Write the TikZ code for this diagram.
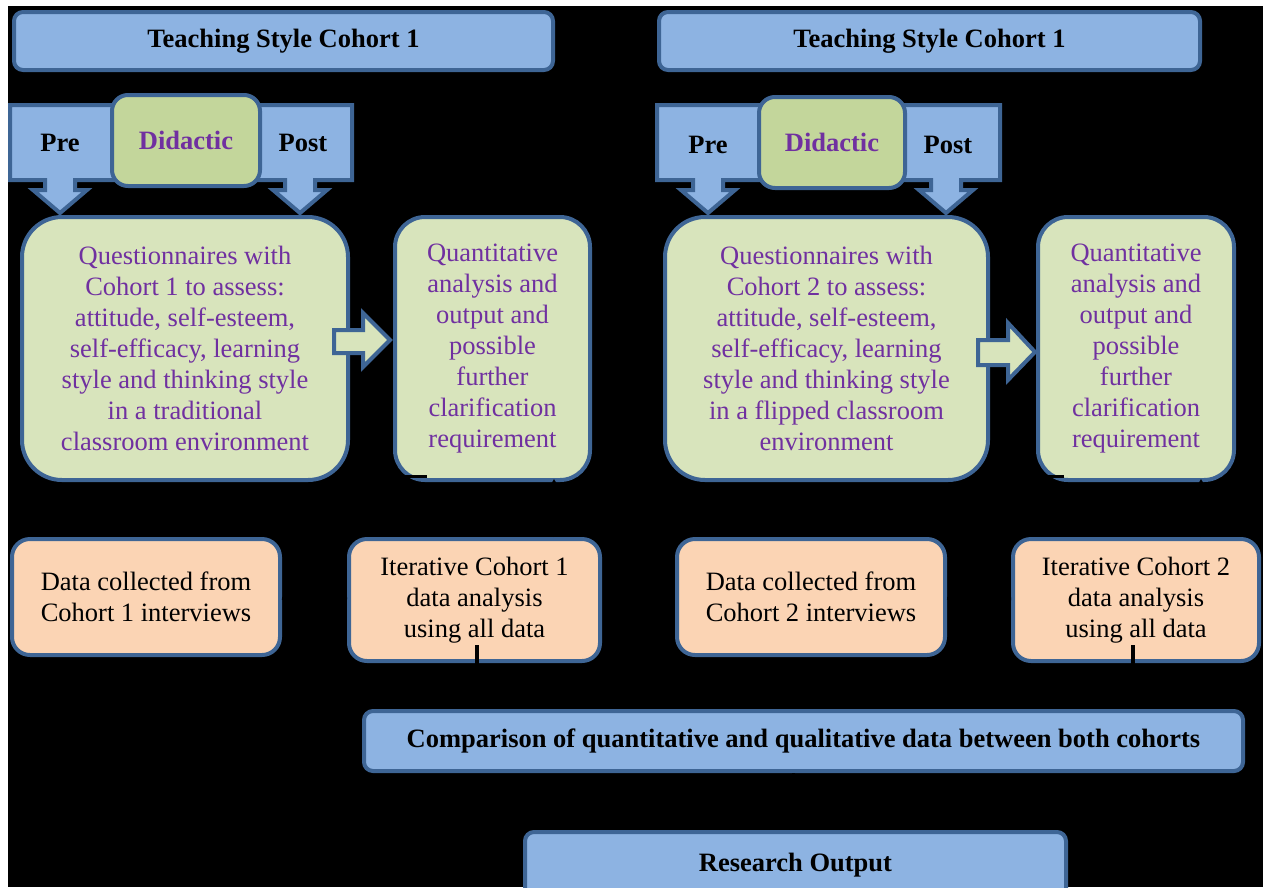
\documentclass[tikz,border=0pt]{standalone}
\usepackage{fontspec}
\setmainfont{LiberationSerif}[Extension=.ttf, UprightFont=*-Regular, BoldFont=*-Bold,
  ItalicFont=*-Italic, BoldItalicFont=*-BoldItalic]
\usetikzlibrary{arrows.meta}

\definecolor{edgeblue}{HTML}{3E6595}
\definecolor{barblue}{HTML}{8DB3E2}
\definecolor{didgreen}{HTML}{C3D69B}
\definecolor{qgreen}{HTML}{D8E4BC}
\definecolor{peach}{HTML}{FBD4B4}
\definecolor{txtpurple}{HTML}{7030A0}

\tikzset{
  base/.style={draw=edgeblue, line width=4pt, align=center, inner sep=0pt},
  bar/.style={base, fill=barblue, rounded corners=9pt,
    font=\bfseries\fontsize{26.5}{31}\selectfont},
  didbox/.style={base, fill=didgreen, rounded corners=16pt, text=txtpurple,
    font=\bfseries\fontsize{26.5}{31}\selectfont},
  qbox/.style={base, fill=qgreen, rounded corners=40pt, text=txtpurple,
    font=\fontsize{26.5}{31}\selectfont},
  anbox/.style={base, fill=qgreen, rounded corners=30pt, text=txtpurple,
    font=\fontsize{26.5}{31}\selectfont},
  peachbox/.style={base, fill=peach, rounded corners=18pt,
    font=\fontsize{26.5}{31}\selectfont},
  callout/.style={draw=edgeblue, fill=barblue, line width=4pt, line join=miter},
  calltext/.style={font=\bfseries\fontsize{26.5}{31}\selectfont},
  blockarrow/.style={draw=edgeblue, fill=qgreen, line width=4pt, line join=miter},
  conn/.style={draw=black, line width=3pt},
  tick/.style={draw=black, line width=4pt},
  tip/.style={-{Triangle[width=9pt,length=8pt]}}
}

% down-pointing callout: body from #1 to #2, arrow centred on #3
\newcommand{\calloutshape}[3]{%
  \path[callout] (#1,105) -- (#2,105) -- (#2,180) -- ({#3+15},180) -- ({#3+15},190)
    -- ({#3+27},190) -- (#3,213) -- ({#3-27},190) -- ({#3-15},190) -- ({#3-15},180)
    -- (#1,180) -- cycle;}

\begin{document}
\begin{tikzpicture}[x=1pt, y=-1pt]
  \useasboundingbox (0,0) rectangle (1263,887);
  \clip (0,0) rectangle (1263,887);
  \fill[white] (0,0) rectangle (1263,887);
  \fill[black] (8,6) rectangle (1263,887);

  % cohort headers
  \node[bar, minimum width=539pt, minimum height=58pt] (top1) at (283.5,41) {Teaching Style Cohort 1};
  \node[bar, minimum width=541pt, minimum height=58pt] (top2) at (929.5,41) {Teaching Style Cohort 1};

  % analysis boxes
  \node[anbox, minimum width=195pt, minimum height=263pt] (quant1) at (492.5,348.5)
    {Quantitative\\analysis and\\output and\\possible\\further\\clarification\\requirement};
  \node[anbox, minimum width=196pt, minimum height=263pt] (quant2) at (1136,348.5)
    {Quantitative\\analysis and\\output and\\possible\\further\\clarification\\requirement};

  % interview and iteration boxes
  \node[peachbox, minimum width=268pt, minimum height=116pt] (data1) at (146,597)
    {Data collected from\\Cohort 1 interviews};
  \node[peachbox, minimum width=268pt, minimum height=116pt] (data2) at (811,597)
    {Data collected from\\Cohort 2 interviews};
  \node[peachbox, minimum width=251pt, minimum height=122pt] (iter1) at (474.5,600)
    {Iterative Cohort 1\\data analysis\\using all data};
  \node[peachbox, minimum width=246pt, minimum height=122pt] (iter2) at (1136,600)
    {Iterative Cohort 2\\data analysis\\using all data};

  % comparison and output
  \node[bar, minimum width=879pt, minimum height=60pt] (comp) at (803.5,741)
    {Comparison of quantitative and qualitative data between both cohorts};
  \node[bar, minimum width=541pt, minimum height=66pt] (res) at (795.5,865) {Research Output};

  % connector anchors
  \coordinate (s1) at ([xshift=34pt,yshift=6pt]quant1.south west);
  \coordinate (s2) at ([xshift=28pt,yshift=6pt]quant2.south west);
  \coordinate (d1) at (218,0);
  \coordinate (d2) at (855,0);
  \coordinate (f1) at (554,0);
  \coordinate (f2) at (1201,0);
  \coordinate (b1) at (477,645);
  \coordinate (b2) at (1133,645);
  \coordinate (m) at (793,0);

  % clarification requirement goes to the interviews
  \draw[conn] (s1) -| (data1.north -| d1);
  \draw[conn] (s2) -| (data2.north -| d2);

  % questionnaire boxes
  \node[qbox, minimum width=326pt, minimum height=263pt] (q1) at (185,348.5)
    {Questionnaires with\\Cohort 1 to assess:\\attitude, self-esteem,\\self-efficacy, learning\\style and thinking style\\in a traditional\\classroom environment};
  \node[qbox, minimum width=323pt, minimum height=263pt] (q2) at (826.5,348.5)
    {Questionnaires with\\Cohort 2 to assess:\\attitude, self-esteem,\\self-efficacy, learning\\style and thinking style\\in a flipped classroom\\environment};

  % block arrows into the analysis boxes
  \path[blockarrow] (334,330) -- (363,330) -- (363,313) -- (390,340) -- (363,367)
    -- (363,353) -- (334,353) -- cycle;
  \path[blockarrow] (978,340) -- (1008,340) -- (1008,323) -- (1035,352) -- (1008,380)
    -- (1008,365) -- (978,365) -- cycle;

  % pre / post callouts and the didactic boxes
  \calloutshape{10}{130}{60}
  \calloutshape{250}{352}{300}
  \calloutshape{657}{780}{708}
  \calloutshape{890}{1000}{946}
  \node[calltext] (pre1) at (60,143) {Pre};
  \node[calltext] (post1) at (303,143) {Post};
  \node[calltext] (pre2) at (708,145) {Pre};
  \node[calltext] (post2) at (948,145) {Post};
  \node[didbox, minimum width=148pt, minimum height=91pt] (did1) at (186,140.5) {Didactic};
  \node[didbox, minimum width=146pt, minimum height=91pt] (did2) at (832,142.5) {Didactic};

  % remaining connectors
  \draw[conn] (data1) -- (iter1);
  \draw[conn] (data2) -- (iter2);
  \draw[conn, tip] (iter1.north -| f1) -- ([yshift=3pt]quant1.south -| f1);
  \draw[conn, tip] (iter2.north -| f2) -- ([yshift=3pt]quant2.south -| f2);
  \draw[tick] (b1) -- (b1 |- comp.north);
  \draw[tick] (b2) -- (b2 |- comp.north);
  \draw[conn] (comp.south -| m) -- (res.north -| m);
\end{tikzpicture}
\end{document}
